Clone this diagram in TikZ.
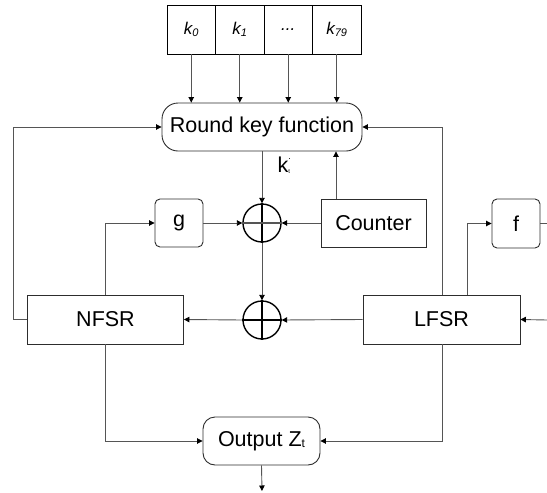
\documentclass[tikz,border=0pt]{standalone}
\usepackage{fontspec}
\setmainfont{Liberation Sans}
\usetikzlibrary{arrows.meta}
\definecolor{ln}{RGB}{85,85,85}
\definecolor{bx}{RGB}{45,45,45}
\newcommand{\ksub}[1]{\raisebox{-1.5pt}{\fontsize{11}{12}\selectfont\itshape #1}}
\begin{document}
\begin{tikzpicture}[x=1pt,y=-1pt,
  box/.style={draw=bx, line width=0.9pt, inner sep=0pt, font=\fontsize{21.5}{24}\selectfont},
  keybox/.style={draw=black, line width=0.9pt, minimum width=48.5pt, minimum height=49pt, inner sep=0pt, font=\fontsize{17}{20}\selectfont\itshape},
  xor/.style={circle, draw=black, line width=1.4pt, minimum size=38pt, inner sep=0pt},
  conn/.style={draw=ln, line width=0.9pt, -{Triangle[length=5.5pt,width=5.5pt,color=black]}},
  plain/.style={draw=ln, line width=0.9pt}]
\useasboundingbox (0,0) rectangle (547,493);
% key boxes
\node[keybox] (k0) at (191.25,29.5) {k\ksub{0}};
\node[keybox] (k1) at (239.75,29.5) {k\ksub{1}};
\node[keybox] (kd) at (288.25,29.5) {...};
\node[keybox] (k79) at (336.75,29.5) {k\ksub{79}};
% main boxes
\node[box, rounded corners=16pt, minimum width=200pt, minimum height=48pt] (rkf) at (262,127) {Round key function};
\node[box, rounded corners=5pt, minimum width=48pt, minimum height=48pt] (g) at (179,223) {g};
\node[box, minimum width=105pt, minimum height=48pt] (ctr) at (373.5,223) {Counter};
\node[box, rounded corners=5pt, minimum width=48pt, minimum height=49pt] (f) at (516,223.5) {f};
\node[box, minimum width=156pt, minimum height=49pt] (nfsr) at (105.5,319.5) {NFSR};
\node[box, minimum width=157pt, minimum height=49pt] (lfsr) at (441.5,319.5) {LFSR};
\node[box, rounded corners=12pt, minimum width=117pt, minimum height=48pt] (out) at (261.5,441) {Output Z\raisebox{-1pt}{\fontsize{12}{12}\selectfont t}};
\node[xor] (x1) at (262,223) {};
\node[xor] (x2) at (262,320) {};
\node[anchor=base west, inner sep=0pt, font=\fontsize{21.5}{24}\selectfont] (kt) at (277.5,172) {k\rlap{\raisebox{13pt}{\fontsize{9}{9}\selectfont .}}\raisebox{-1pt}{\fontsize{6}{6}\selectfont t}};
% coordinates
\coordinate (ctrtop) at (336,199);
\coordinate (lf1) at (442,295);
\coordinate (lf2) at (467,295);
\coordinate (fout) at (547,223.5);
\coordinate (lin) at (547,320);
\coordinate (zout) at (262,491);
% keys to round key function
\foreach \k in {k0,k1,kd,k79}{
  \draw[conn] (\k.south) -- (\k.south |- rkf.north);
}
% round key / counter / xor
\draw[conn] (rkf.south) -- (x1.north);
\draw[conn] (ctrtop) -- (ctrtop |- rkf.south);
\draw[conn] (g.east) -- (x1.west);
\draw[conn] (ctr.west) -- (x1.east);
\draw[conn] (x1.south) -- (x2.north);
\draw[conn] (lfsr.west) -- (x2.east);
\draw[conn] (x2.west) -- (nfsr.east);
% feedback to round key function
\draw[conn] (nfsr.west) -- (13,319.5) -- (13,127) -- (rkf.west);
\draw[conn] (lf1) -- (lf1 |- rkf.east) -- (rkf.east);
% g and f
\draw[conn] (nfsr.north) -- (nfsr.north |- g.west) -- (g.west);
\draw[conn] (lf2) -- (lf2 |- f.west) -- (f.west);
\draw[plain] (f.east) -- (fout);
\draw[conn] (lin) -- (lfsr.east);
% output
\draw[conn] (nfsr.south) -- (nfsr.south |- out.west) -- (out.west);
\draw[conn] (lf1 |- lfsr.south) -- (lf1 |- out.east) -- (out.east);
\draw[conn] (out.south) -- (zout);
% xor crosses
\draw[black, line width=1.4pt] (x1.north) -- (x1.south) (x2.north) -- (x2.south) (x2.west) -- (x2.east);
\draw[ln, line width=1.4pt] (x1.west) -- (x1.east);
\end{tikzpicture}
\end{document}
